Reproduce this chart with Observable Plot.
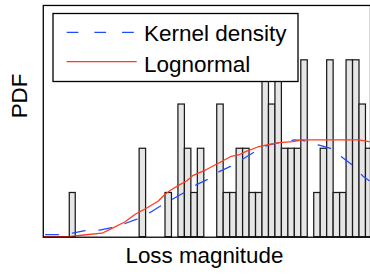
<!DOCTYPE html>
<html><head><meta charset="utf-8">
<script src="https://cdn.jsdelivr.net/npm/d3@7"></script>
<script src="https://cdn.jsdelivr.net/npm/@observablehq/plot@0.6"></script>
<style>
body{margin:0;background:#fff;}
#wrap{position:relative;width:370px;height:280px;overflow:hidden;font-family:"Liberation Sans",Arial,Helvetica,sans-serif;background:#fff;}
#legend{position:absolute;left:0;top:0;pointer-events:none;}
</style></head><body><div id="wrap"></div>
<script>
// Histogram bins (loss magnitude, arbitrary units) and counts
const binLo  = [4.2, 15, 19, 21, 22, 23, 24, 27, 28, 29, 30, 31, 32, 33, 34, 35, 36, 37, 38, 39, 40, 42, 43, 44, 45, 46, 47, 48, 49, 50];
const binHi  = [5.12, 16, 20, 22, 23, 24, 25, 28, 29, 30, 31, 32, 33, 34, 35, 36, 37, 38, 39, 40, 41, 43, 44, 45, 46, 47, 48, 49, 50, 51];
const counts = [1, 2, 1, 3, 2, 1, 2, 3, 1, 1, 2, 2, 1, 1, 5, 3, 5, 2, 2, 2, 4, 1, 2, 4, 1, 1, 4, 4, 3, 2];

// Kernel density curve
const kdeX = [0.46, 2.51, 4.57, 6.62, 8.82, 10.72, 12.77, 14.57, 16.62, 18.26, 20.2, 22.0, 23.8, 25.58, 27.38, 29.18, 31.23, 32.77, 34.77, 36.88, 38.92, 40.2, 43.03, 44.82, 46.46, 48.0, 49.54, 50.46];
const kdeY = [0.06, 0.06, 0.09, 0.15, 0.16, 0.22, 0.31, 0.41, 0.56, 0.71, 0.87, 1.02, 1.19, 1.31, 1.49, 1.61, 1.79, 1.93, 2.08, 2.15, 2.20, 2.19, 2.07, 2.0, 1.79, 1.62, 1.38, 1.28];

// Lognormal curve
const lnX = [0.2, 4.31, 6.35, 9.18, 10.72, 12.77, 14.31, 16.11, 17.89, 18.92, 19.95, 21.23, 22.26, 23.28, 25.34, 27.38, 29.18, 30.46, 31.49, 33.28, 35.08, 36.62, 38.66, 40.2, 42.26, 45.85, 48.92, 50.46];
const lnY = [0.015, 0.02, 0.05, 0.09, 0.2, 0.35, 0.52, 0.66, 0.82, 0.97, 1.08, 1.19, 1.27, 1.40, 1.53, 1.69, 1.83, 1.87, 1.94, 2.04, 2.10, 2.14, 2.16, 2.20, 2.20, 2.20, 2.20, 2.16];

const seriesNames = ["Kernel density", "Lognormal"];
const xLabel = "Loss magnitude";
const yLabel = "PDF";

const bins = binLo.map((lo, i) => ({lo, hi: binHi[i], n: counts[i]}));
const kde = kdeX.map((x, i) => ({x, y: kdeY[i]}));
const ln = lnX.map((x, i) => ({x, y: lnY[i]}));

const FONT = '"Liberation Sans", Arial, Helvetica, sans-serif';
const BLUE = "#1f4bff", RED = "#ff3a1e";

const chart = Plot.plot({
  width: 372, height: 280,
  marginLeft: 43, marginRight: 0, marginTop: 5, marginBottom: 42,
  x: {domain: [0.1, 50.7], axis: null},
  y: {domain: [0, 5.24], axis: null},
  style: {fontFamily: FONT, background: "white", overflow: "visible"},
  marks: [
    Plot.rect(bins, {x1: "lo", x2: "hi", y1: 0, y2: "n", fill: "#e6e6e6", stroke: "#1a1a1a", strokeWidth: 1.25}),
    Plot.line(kde, {x: "x", y: "y", stroke: BLUE, strokeWidth: 1.3, strokeDasharray: "13,14"}),
    Plot.line(ln, {x: "x", y: "y", stroke: RED, strokeWidth: 1.3}),
    Plot.frame({stroke: "black", strokeWidth: 1.3}),
    Plot.text([xLabel], {frameAnchor: "bottom", dy: 26, dx: -2.5, fontSize: 22.5, fill: "black"}),
    Plot.text([yLabel], {frameAnchor: "left", dx: -24, dy: -3, rotate: -90, fontSize: 22.5, fill: "black"})
  ]
});
const wrap = document.getElementById("wrap");
wrap.appendChild(chart);

// Legend overlay
const ns = "http://www.w3.org/2000/svg";
const lg = document.createElementNS(ns, "svg");
lg.setAttribute("id", "legend");
lg.setAttribute("width", 370); lg.setAttribute("height", 280);
lg.innerHTML = `
  <rect x="53" y="13.5" width="245" height="68" fill="white" stroke="black" stroke-width="1.3"/>
  <line x1="66.7" x2="135" y1="32.3" y2="32.3" stroke="${BLUE}" stroke-width="1.3" stroke-dasharray="11.7,16"/>
  <line x1="66.7" x2="136.7" y1="61.7" y2="61.7" stroke="${RED}" stroke-width="1.3"/>
  <text x="144" y="40.7" font-size="22.5" font-family='${FONT}' fill="black">${seriesNames[0]}</text>
  <text x="144" y="72.2" font-size="22.5" font-family='${FONT}' fill="black">${seriesNames[1]}</text>`;
wrap.appendChild(lg);
</script></body></html>
